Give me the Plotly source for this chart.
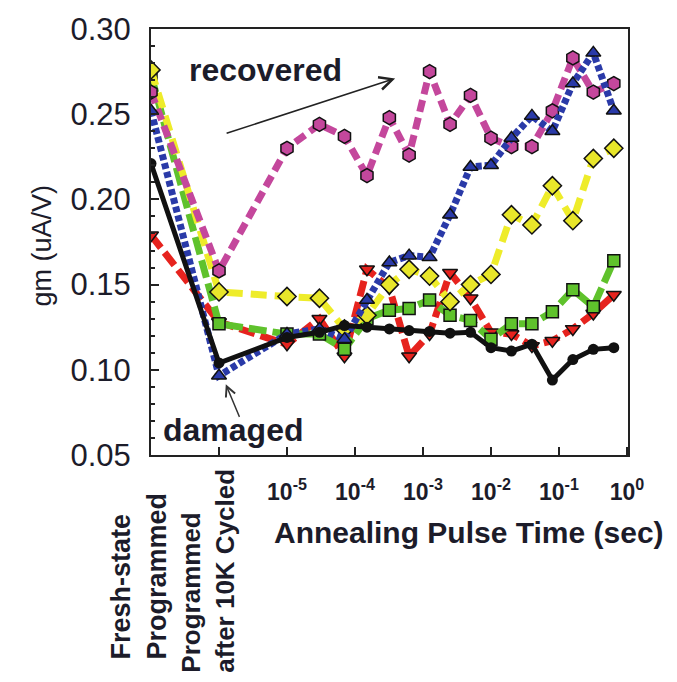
import plotly.graph_objects as go

# x positions: two pre-anneal stages (placed at pseudo-decades) + annealing pulse times (s)
stage_x = [1e-7, 1e-6]
pulse_t = [1e-5, 3e-5, 7e-5, 1.5e-4, 3.2e-4, 6.25e-4, 1.25e-3, 2.5e-3, 5e-3,
           1e-2, 2e-2, 4e-2, 8e-2, 0.16, 0.32, 0.64]
x_all = stage_x + pulse_t

black = [0.221, 0.104, 0.119, 0.122, 0.126, 0.125, 0.124, 0.123, 0.1225, 0.1215,
         0.122, 0.113, 0.111, 0.115, 0.094, 0.106, 0.112, 0.113]
magenta = [0.263, 0.158, 0.230, 0.244, 0.237, 0.214, 0.248, 0.226, 0.275, 0.244,
           0.261, 0.236, 0.231, 0.231, 0.252, 0.283, 0.263, 0.268]
blue = [0.252, 0.0965, 0.121, 0.124, 0.118, 0.141, 0.163, 0.167, 0.166, 0.191,
        0.219, 0.220, 0.236, 0.249, 0.240, 0.268, 0.286, 0.252]
green = [0.273, 0.127, 0.121, 0.121, 0.112, 0.130, 0.135, 0.136, 0.141, 0.132,
         0.129, 0.118, 0.127, 0.127, 0.134, 0.147, 0.137, 0.164]
red = [0.179, 0.128, 0.115, 0.130, 0.108, 0.159, 0.148, 0.108, 0.121, 0.157,
       0.142, 0.122, 0.121, 0.114, 0.117, 0.124, 0.133, 0.144]
yellow = [0.276, 0.1457, 0.143, 0.142, 0.124, 0.132, 0.150, 0.159, 0.155, 0.140,
          0.150, 0.156, 0.191, 0.185, 0.208, 0.1875, 0.224, 0.230]

x_tickvals = [1e-6, 1e-5, 1e-4, 1e-3, 1e-2, 1e-1, 1]
x_ticktext = ['', '<b>10<sup>-5</sup></b>', '<b>10<sup>-4</sup></b>', '<b>10<sup>-3</sup></b>',
              '<b>10<sup>-2</sup></b>', '<b>10<sup>-1</sup></b>', '<b>10<sup>0</sup></b>']

FONT = "Liberation Sans, Arial, sans-serif"
TXT = "#1c1c2a"

series = [
    (red, '#e6231e', '#e6231e', 'triangle-down', '16px,6px', 7, 13),
    (green, '#5fc22c', '#5fc22c', 'square', '18px,6px', 7, 12),
    (yellow, '#eeec2a', '#e8e62a', 'diamond', '16px,8px', 7, 14),
    (magenta, '#c4479c', '#c4479c', 'hexagon', '12px,6px', 7, 14),
    (blue, '#2a3aa8', '#2a3aa8', 'triangle-up', '6px,3px', 7, 13),
]

fig = go.Figure()
for ys, lc, mc, sym, dash, lw, ms in series:
    fig.add_trace(go.Scatter(
        x=x_all, y=ys, mode='lines+markers',
        line=dict(color=lc, width=lw, dash=dash),
        marker=dict(symbol=sym, size=ms, color=mc, line=dict(color='#111', width=1.5)),
    ))
fig.add_trace(go.Scatter(
    x=x_all, y=black, mode='lines+markers',
    line=dict(color='#111', width=5),
    marker=dict(symbol='circle', size=11, color='#111'),
))


def px(xp):
    return (xp - 151) / 477


def py(yp):
    return (455 - yp) / 431


def txt(text, x, y, size, angle=0, align='center'):
    return dict(text=text, x=px(x), y=py(y), xref='paper', yref='paper',
                xanchor='center', yanchor='middle', showarrow=False,
                textangle=angle, align=align,
                font=dict(size=size, color=TXT, family=FONT))


annotations = [
    txt('<b>recovered</b>', 265, 65, 32),
    txt('<b>damaged</b>', 233, 430, 32),
    dict(text='', x=-3.41, y=0.271, ax=-5.91, ay=0.2385, xref='x', yref='y',
         axref='x', ayref='y', showarrow=True, arrowhead=5, arrowsize=1.6,
         arrowwidth=1.6, arrowcolor='#222'),
    dict(text='', x=-5.90, y=0.0915, ax=-5.69, ay=0.0715, xref='x', yref='y',
         axref='x', ayref='y', showarrow=True, arrowhead=5, arrowsize=1.4,
         arrowwidth=1.4, arrowcolor='#333'),
    txt('<b>Annealing Pulse Time (sec)</b>', 469, 533, 30),
    txt('gm (uA/V)', 42, 243, 27, angle=-90),
    txt('<b>Fresh-state<br>Programmed</b>', 139, 578, 27, angle=-90, align='left'),
    txt('<b>Programmed<br>after 10K Cycled</b>', 208, 572, 26, angle=-90, align='left'),
]

fig.update_layout(
    width=677, height=682,
    margin=dict(l=151, r=49, t=24, b=227),
    plot_bgcolor='white', paper_bgcolor='white',
    showlegend=False,
    annotations=annotations,
    font=dict(family=FONT, color=TXT),
)
fig.update_xaxes(
    type='log', range=[-7.0, 0.015],
    showline=True, linecolor='#222', linewidth=2, mirror=True,
    ticks='inside', ticklen=8, tickwidth=1.5, tickcolor='#222',
    tickvals=x_tickvals, ticktext=x_ticktext,
    tickfont=dict(size=23, color=TXT, family=FONT),
    ticklabelstandoff=15,
    showgrid=False, zeroline=False,
)
fig.update_yaxes(
    range=[0.05, 0.30], dtick=0.05, tick0=0.05, tickformat='.2f',
    showline=True, linecolor='#222', linewidth=2, mirror=True,
    ticks='inside', ticklen=8, tickwidth=1.5, tickcolor='#222',
    minor=dict(dtick=0.01, ticks='inside', ticklen=4, tickcolor='#222'),
    tickfont=dict(size=31, color=TXT, family=FONT),
    ticklabelstandoff=12,
    showgrid=False, zeroline=False,
)

fig.write_html("out.html")
